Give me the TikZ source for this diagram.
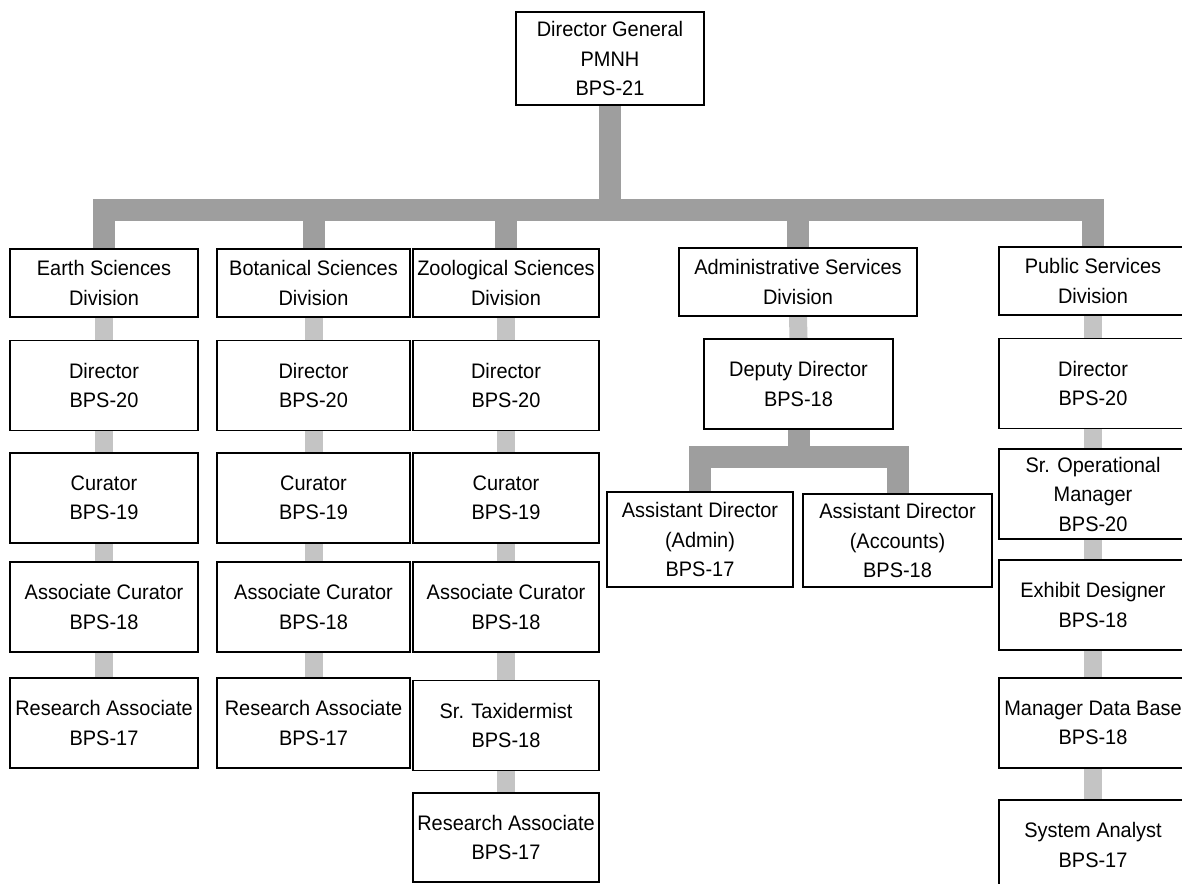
\documentclass[tikz,border=0pt]{standalone}
\usepackage{fontspec}
\setmainfont[FakeStretch=0.95]{Liberation Sans}
\usetikzlibrary{backgrounds}
\definecolor{bardark}{RGB}{158,158,158}
\definecolor{barlight}{RGB}{196,196,196}
\begin{document}
\begin{tikzpicture}[x=1pt,y=-1pt,
  box/.style={draw=black,line width=1.7pt,fill=white,inner sep=0pt,align=center,
    minimum width=188pt,minimum height=90pt,font=\fontsize{21}{29.5}\selectfont},
  divbox/.style={box,minimum height=68pt},
  mainbar/.style={draw=bardark,line width=22pt,line cap=butt,line join=miter},
  stemline/.style={draw=barlight,line width=18pt,line cap=butt}]
\useasboundingbox (0,0) rectangle (1182,883);
% top
\node[box,minimum height=93pt] (dg) at (610,58.5) {Director General\\PMNH\\BPS-21};
% divisions
\node[divbox] (es) at (104,283) {Earth Sciences\\Division};
\node[divbox,minimum width=193pt] (bs) at (313.5,283) {Botanical Sciences\\Division};
\node[divbox,minimum width=186pt] (zs) at (506,283) {Zoological Sciences\\Division};
\node[divbox,minimum width=238pt] (as) at (798,282) {Administrative Services\\Division};
\node[divbox] (ps) at (1093,281) {Public Services\\Division};
% Earth
\node[box] (es1) at (104,385.5) {Director\\BPS-20};
\node[box] (es2) at (104,498) {Curator\\BPS-19};
\node[box] (es3) at (104,607) {Associate Curator\\BPS-18};
\node[box] (es4) at (104,723) {Research Associate\\BPS-17};
% Botanical
\node[box,minimum width=193pt] (bs1) at (313.5,385.5) {Director\\BPS-20};
\node[box,minimum width=193pt] (bs2) at (313.5,498) {Curator\\BPS-19};
\node[box,minimum width=193pt] (bs3) at (313.5,607) {Associate Curator\\BPS-18};
\node[box,minimum width=193pt] (bs4) at (313.5,723) {Research Associate\\BPS-17};
% Zoological
\node[box,minimum width=186pt] (zs1) at (506,385.5) {Director\\BPS-20};
\node[box,minimum width=186pt] (zs2) at (506,498) {Curator\\BPS-19};
\node[box,minimum width=186pt] (zs3) at (506,607) {Associate Curator\\BPS-18};
\node[box,minimum width=186pt] (zs4) at (506,725.5) {Sr. Taxidermist\\BPS-18};
\node[box,minimum width=186pt,minimum height=89pt] (zs5) at (506,837.5) {Research Associate\\BPS-17};
% Administrative
\node[box,minimum width=189pt] (dd) at (798.5,384) {Deputy Director\\BPS-18};
\node[box,minimum width=186pt,minimum height=95pt] (ada) at (700,539.5) {Assistant Director\\(Admin)\\BPS-17};
\node[box,minimum width=189pt,minimum height=93pt] (adc) at (897.5,540.5) {Assistant Director\\(Accounts)\\BPS-18};
% Public
\node[box] (ps1) at (1093,383.5) {Director\\BPS-20};
\node[box] (ps2) at (1093,494) {Sr. Operational\\Manager\\BPS-20};
\node[box] (ps3) at (1093,605) {Exhibit Designer\\BPS-18};
\node[box] (ps4) at (1093,723) {Manager Data Base\\BPS-18};
\node[box] (ps5) at (1093,845) {System Analyst\\BPS-17};
% connectors
\coordinate (barline) at (0,210);
\coordinate (subbar) at (0,457);
\begin{scope}[on background layer]
  \foreach \d in {es,bs,zs,as,ps}
    \draw[mainbar] (dg.south) -- (dg.south |- barline) -| (\d.north);
  \draw[mainbar] (dd.south) -- (dd.south |- subbar) -| (ada.north);
  \draw[mainbar] (dd.south) -- (dd.south |- subbar) -| (adc.north);
  \draw[stemline] (es.south) -- (es1.north);
  \draw[stemline] (es1.south) -- (es2.north);
  \draw[stemline] (es2.south) -- (es3.north);
  \draw[stemline] (es3.south) -- (es4.north);
  \draw[stemline] (bs.south) -- (bs1.north);
  \draw[stemline] (bs1.south) -- (bs2.north);
  \draw[stemline] (bs2.south) -- (bs3.north);
  \draw[stemline] (bs3.south) -- (bs4.north);
  \draw[stemline] (zs.south) -- (zs1.north);
  \draw[stemline] (zs1.south) -- (zs2.north);
  \draw[stemline] (zs2.south) -- (zs3.north);
  \draw[stemline] (zs3.south) -- (zs4.north);
  \draw[stemline] (zs4.south) -- (zs5.north);
  \draw[stemline] (as.south) -- (dd.north);
  \draw[stemline] (ps.south) -- (ps1.north);
  \draw[stemline] (ps1.south) -- (ps2.north);
  \draw[stemline] (ps2.south) -- (ps3.north);
  \draw[stemline] (ps3.south) -- (ps4.north);
  \draw[stemline] (ps4.south) -- (ps5.north);
\end{scope}
\end{tikzpicture}
\end{document}
